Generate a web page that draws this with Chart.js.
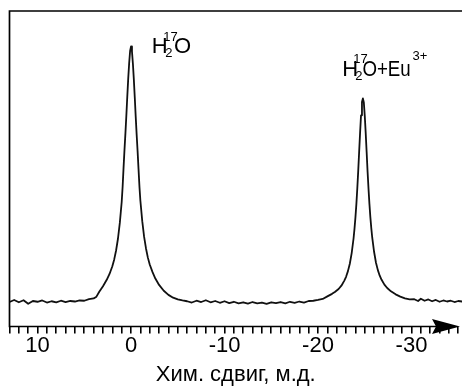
<!DOCTYPE html>
<html>
<head>
<meta charset="utf-8">
<script src="https://cdn.jsdelivr.net/npm/chart.js@4.4.1/dist/chart.umd.min.js"></script>
<style>
  html, body { margin: 0; padding: 0; background: #fff; }
  canvas { display: block; }
</style>
</head>
<body>
<canvas id="nmrChart" width="462" height="388"></canvas>
<script>
// --- Spectrum data (chemical shift, ppm / intensity, a.u.) ---
const shiftPpm = [
    13, 12.5, 12, 11.5, 11, 10.5, 10, 9.5, 9, 8.5, 8, 7.5, 7, 6.5, 6, 5.5, 5, 4.5, 4, 3.7,
    3.4, 3.0, 2.6, 2.3, 2.0, 1.8, 1.6, 1.4, 1.2, 1.0, 0.9, 0.8, 0.7, 0.6, 0.5, 0.4, 0.3, 0.2, 0.1, 0,
    -0.1, -0.2, -0.3, -0.4, -0.5, -0.6, -0.7, -0.8, -0.9, -1.0, -1.2, -1.4, -1.6, -1.8, -2.0, -2.3, -2.6, -3.0, -3.5, -4.0, -4.5, -5.0, -5.5,
    -6.0, -6.5, -7.0, -7.5, -8.0, -8.5, -9.0, -9.5, -10.0, -10.5, -11.0, -11.5, -12.0, -12.5, -13.0,
    -13.5, -14.0, -14.5, -15.0, -15.5, -16.0, -16.5, -17.0, -17.5, -18.0, -18.5, -19.0, -19.5, -20.0, -20.5,
    -21.0, -21.5, -21.8, -22.2, -22.5, -22.8, -23.0, -23.2, -23.4, -23.6, -23.8, -23.9, -24.0, -24.1, -24.2, -24.3, -24.4, -24.5, -24.6, -24.7, -24.8,
    -24.9, -25.0, -25.1, -25.2, -25.3, -25.4, -25.5, -25.6, -25.7, -25.8, -26.0, -26.2, -26.4, -26.6, -26.8, -27.1, -27.4, -27.8, -28.3, -28.8, -29.3, -29.8,
    -30.3, -30.7, -31.0, -31.4, -31.8, -32.2, -32.6, -33.0, -33.4, -33.8, -34.2, -34.6, -35.0, -35.4
];
const intensity = [
    -0.2, 0.6, -0.3, 0.5, -0.9, 0.2, -0.1, 0.4, -0.4, 0.1, -0.3, 0.3, -0.2, 0.2, 0.0, 0.4, 0.3, 0.9, 1.2, 1.9,
    3.8, 6.0, 8.5, 10.8, 13.8, 16.5, 20.0, 24.6, 30.8, 39.0, 45.0, 52.5, 59.5, 66.0, 73.0, 80.5, 87.5, 93.5, 98.2, 100,
    98.0, 93.2, 87.0, 80.0, 72.5, 65.5, 59.0, 52.0, 45.0, 39.5, 31.5, 25.3, 20.8, 17.2, 14.5, 11.5, 9.0, 6.5, 4.2, 2.6, 1.5, 0.8, 0.4,
    0.1, -0.4, 0.3, -0.2, 0.5, -0.3, 0.2, -0.5, 0.1, -0.6, -0.1, -0.7, -0.3, -0.8, -0.2,
    -0.7, -0.4, -0.9, -0.3, -0.6, -0.2, -0.7, -0.1, -0.5, 0.0, -0.4, 0.2, 0.3, 0.6, 1.0,
    2.0, 3.0, 3.7, 4.9, 6.2, 8.1, 9.7, 11.9, 14.8, 19.0, 24.7, 28.5, 32.9, 38.1, 44.3, 51.2, 58.8, 66.2, 73.0, 78.2, 79.6,
    78.0, 72.8, 66.0, 58.6, 51.0, 44.2, 38.2, 33.0, 28.7, 25.0, 19.4, 15.2, 12.3, 10.1, 8.5, 6.6, 5.3, 4.0, 2.8, 1.9, 1.2, 0.8,
    0.9, 0.2, 1.1, 0.3, 0.8, 0.1, 0.6, -0.1, 0.4, 0.0, 0.3, -0.2, 0.2, 0.0
];
const xRange = [13, -35.4];          // left edge, right edge (ppm)
const yRange = [-9.8, 113.9];        // intensity range
const tickLabelStep = 10;            // labelled every 10 ppm
const axisTitle = 'Хим. сдвиг, м.д.';

const FONT = "'Liberation Sans', Arial, sans-serif";

// --- Frame, arrow and peak labels ---
const framePlugin = {
    id: 'frame',
    afterDraw(chart) {
        const { ctx, chartArea: a } = chart;
        ctx.save();
        ctx.strokeStyle = '#000';
        ctx.fillStyle = '#000';
        ctx.lineWidth = 1.7;
        ctx.beginPath();
        ctx.moveTo(a.right, a.top);
        ctx.lineTo(a.left, a.top);
        ctx.lineTo(a.left, a.bottom);
        ctx.lineTo(a.right - 20, a.bottom);
        ctx.stroke();

        // arrow head at the right end of the axis
        const tipX = a.right - 2, backX = a.right - 30, y = a.bottom;
        ctx.beginPath();
        ctx.moveTo(tipX, y);
        ctx.lineTo(backX, y - 7.5);
        ctx.lineTo(backX + 4, y);
        ctx.lineTo(backX, y + 7.5);
        ctx.closePath();
        ctx.fill();

        // peak labels
        ctx.textBaseline = 'alphabetic';
        const big = '22px ' + FONT, small = '13px ' + FONT;
        const put = (txt, x, yy, f, align) => {
            ctx.font = f;
            ctx.textAlign = align || 'center';
            ctx.fillText(txt, x, yy);
        };

        put('H', 159.7, 52.7, big);
        put('17', 170.5, 40.7, small);
        put('2', 168.8, 56.5, small);
        put('O', 182.5, 52.7, big);

        put('H', 350.3, 75.7, big);
        put('17', 360.5, 63.3, small);
        put('2', 358.8, 79.5, small);
        // the "O+Eu" part is set a bit narrower in the original
        ctx.save();
        ctx.translate(362.4, 75.7);
        ctx.scale(0.85, 1);
        put('O+Eu', 0, 0, big, 'left');
        ctx.restore();
        put('3+', 412.5, 60, small, 'left');
        ctx.restore();
    }
};

const ctx = document.getElementById('nmrChart').getContext('2d');
new Chart(ctx, {
    type: 'line',
    data: {
        datasets: [{
            data: shiftPpm.map((x, i) => ({ x: x, y: intensity[i] })),
            borderColor: '#111',
            borderWidth: 1.8,
            borderJoinStyle: 'round',
            borderCapStyle: 'round',
            pointRadius: 0,
            tension: 0,
            fill: false
        }]
    },
    options: {
        responsive: false,
        animation: false,
        events: [],
        layout: { padding: { left: 9.5, top: 11, right: 0, bottom: 0 } },
        plugins: { legend: { display: false }, tooltip: { enabled: false } },
        scales: {
            x: {
                type: 'linear',
                reverse: true,
                min: xRange[1],
                max: xRange[0],
                border: { display: false },
                grid: {
                    drawOnChartArea: false,
                    drawTicks: true,
                    tickLength: 7,
                    color: '#000',
                    lineWidth: 1.6
                },
                ticks: {
                    stepSize: 1,
                    autoSkip: false,
                    includeBounds: false,
                    maxRotation: 0,
                    padding: -1,
                    color: '#000',
                    font: { family: FONT, size: 22 },
                    callback: v => (Math.round(v) % tickLabelStep === 0 ? String(Math.round(v)) : '')
                },
                title: {
                    display: true,
                    text: axisTitle,
                    color: '#000',
                    font: { family: FONT, size: 22 },
                    padding: { top: 0, bottom: 0 }
                },
                afterFit(scale) { scale.height = 61.5; }
            },
            y: {
                display: false,
                min: yRange[0],
                max: yRange[1]
            }
        }
    },
    plugins: [framePlugin]
});
</script>
</body>
</html>
